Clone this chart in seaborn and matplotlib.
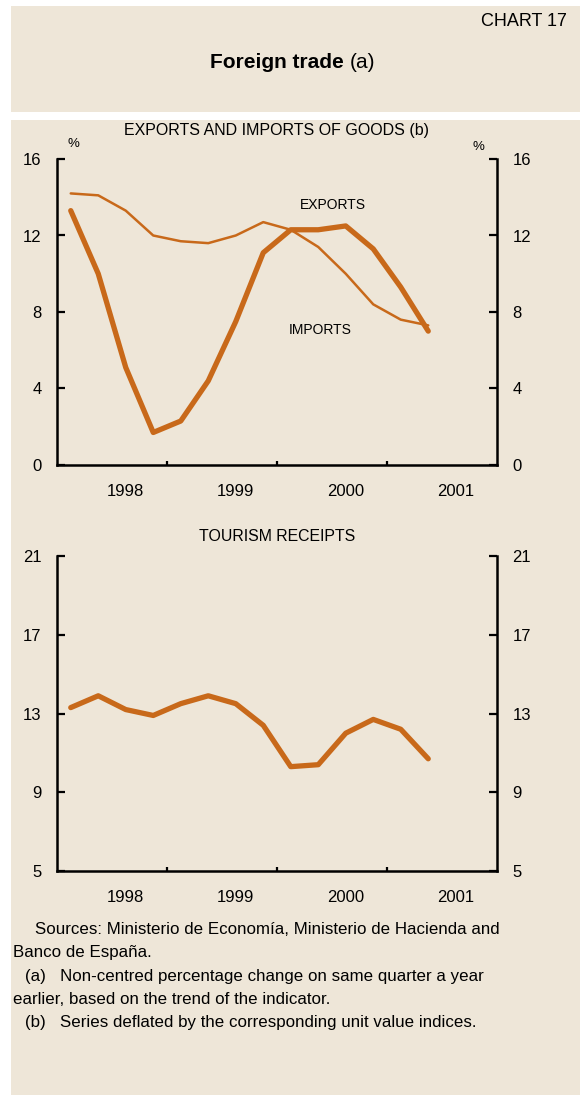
import numpy as np
import pandas as pd
import matplotlib
matplotlib.use("Agg")
import matplotlib.pyplot as plt
from matplotlib.patches import Rectangle
import seaborn as sns

sns.set_style("white")
plt.rcParams['font.family'] = ['Liberation Sans', 'DejaVu Sans']
plt.rcParams['text.color'] = 'black'
plt.rcParams['xtick.color'] = 'black'
plt.rcParams['ytick.color'] = 'black'

# quarterly data 1998Q1 - 2001Q2
quarters = ["1998Q1", "1998Q2", "1998Q3", "1998Q4",
            "1999Q1", "1999Q2", "1999Q3", "1999Q4",
            "2000Q1", "2000Q2", "2000Q3", "2000Q4",
            "2001Q1", "2001Q2"]
exports = [13.3, 10.0, 5.1, 1.7, 2.3, 4.4, 7.5, 11.1, 12.3, 12.3, 12.5, 11.3, 9.3, 7.0]
imports = [14.2, 14.1, 13.3, 12.0, 11.7, 11.6, 12.0, 12.7, 12.3, 11.4, 10.0, 8.4, 7.6, 7.3]
tourism = [13.3, 13.9, 13.2, 12.9, 13.5, 13.9, 13.5, 12.4, 10.3, 10.4, 12.0, 12.7, 12.2, 10.7]

years = ["1998", "1999", "2000", "2001"]
ticks_goods = [0, 4, 8, 12, 16]
ticks_tourism = [5, 9, 13, 17, 21]

LINE = "#c8691a"
BG = "#eee6d8"

W, H = 580, 1095
fig = plt.figure(figsize=(W / 100, H / 100), dpi=100)
fig.patch.set_facecolor("white")

def px(x, y):
    return x / W, 1 - y / H

# beige boxes (behind the axes)
fig.patches.append(Rectangle(px(11, 112), 569 / W, 106 / H, transform=fig.transFigure,
                             facecolor=BG, edgecolor="none", zorder=-5))
fig.patches.append(Rectangle(px(11, 1095), 569 / W, 975 / H, transform=fig.transFigure,
                             facecolor=BG, edgecolor="none", zorder=-5))

# x positions: quarter midpoints
qpos = []
for q in quarters:
    yr = int(q[:4]) - 1998
    qi = int(q[-1]) - 1
    qpos.append(yr * 4 + qi + 0.5)

df = pd.DataFrame({"pos": qpos, "exports": exports, "imports": imports, "tourism": tourism})


def style_axis(ax, yticks):
    ax.set_facecolor("none")
    ax.set_xlim(0, 16)
    ax.set_ylim(yticks[0], yticks[-1])
    for s in ["left", "right", "bottom"]:
        ax.spines[s].set_visible(True)
        ax.spines[s].set_linewidth(1.8)
        ax.spines[s].set_color("black")
    ax.spines["top"].set_visible(False)
    ax.set_yticks(yticks)
    ax.set_yticklabels([str(t) for t in yticks])
    ax.tick_params(axis="y", direction="in", length=6, width=1.6, left=True, right=True,
                   labelleft=True, labelright=True, labelsize=12, pad=11)
    ax.set_xticks([4, 8, 12])
    ax.set_xticklabels([])
    ax.set_xticks([i * 4 + 2.5 for i in range(len(years))], minor=True)
    ax.set_xticklabels(years, minor=True)
    ax.tick_params(axis="x", which="major", direction="in", length=3, width=1.6, bottom=True)
    ax.tick_params(axis="x", which="minor", length=0, labelsize=12, pad=14)
    ax.set_xlabel("")
    ax.set_ylabel("")


# goods panel
ax1 = fig.add_axes([57 / W, 1 - 465 / H, 440 / W, 306 / H])
sns.lineplot(data=df, x="pos", y="imports", ax=ax1, color=LINE, linewidth=1.8)
sns.lineplot(data=df, x="pos", y="exports", ax=ax1, color=LINE, linewidth=3.8)
style_axis(ax1, ticks_goods)
ax1.text(333 / W, 1 - 205 / H, "EXPORTS", transform=fig.transFigure, ha="center", va="center", fontsize=10)
ax1.text(320 / W, 1 - 330 / H, "IMPORTS", transform=fig.transFigure, ha="center", va="center", fontsize=10)

# tourism panel
ax2 = fig.add_axes([57 / W, 1 - 871 / H, 440 / W, 315 / H])
sns.lineplot(data=df, x="pos", y="tourism", ax=ax2, color=LINE, linewidth=3.8)
style_axis(ax2, ticks_tourism)

# texts
fig.text(567 / W, 1 - 22 / H, "CHART 17", ha="right", va="center", fontsize=13)
fig.text(344 / W, 1 - 63 / H, "Foreign trade", ha="right", va="center", fontsize=15, fontweight="bold")
fig.text(350 / W, 1 - 63 / H, "(a)", ha="left", va="center", fontsize=15)
fig.text(277 / W, 1 - 131 / H, "EXPORTS AND IMPORTS OF GOODS (b)", ha="center", va="center", fontsize=11.5)
fig.text(73 / W, 1 - 144 / H, "%", ha="center", va="center", fontsize=9.5)
fig.text(478 / W, 1 - 147 / H, "%", ha="center", va="center", fontsize=9.5)
fig.text(277 / W, 1 - 536 / H, "TOURISM RECEIPTS", ha="center", va="center", fontsize=11.4)

notes = [
    (35, 930, "Sources: Ministerio de Economía, Ministerio de Hacienda and"),
    (13, 953, "Banco de España."),
    (25, 977, "(a)   Non-centred percentage change on same quarter a year"),
    (13, 999, "earlier, based on the trend of the indicator."),
    (25, 1023, "(b)   Series deflated by the corresponding unit value indices."),
]
for x, y, t in notes:
    fig.text(x / W, 1 - y / H, t, ha="left", va="center", fontsize=12.2)

fig.savefig("out.png", dpi=100, facecolor=fig.get_facecolor())
